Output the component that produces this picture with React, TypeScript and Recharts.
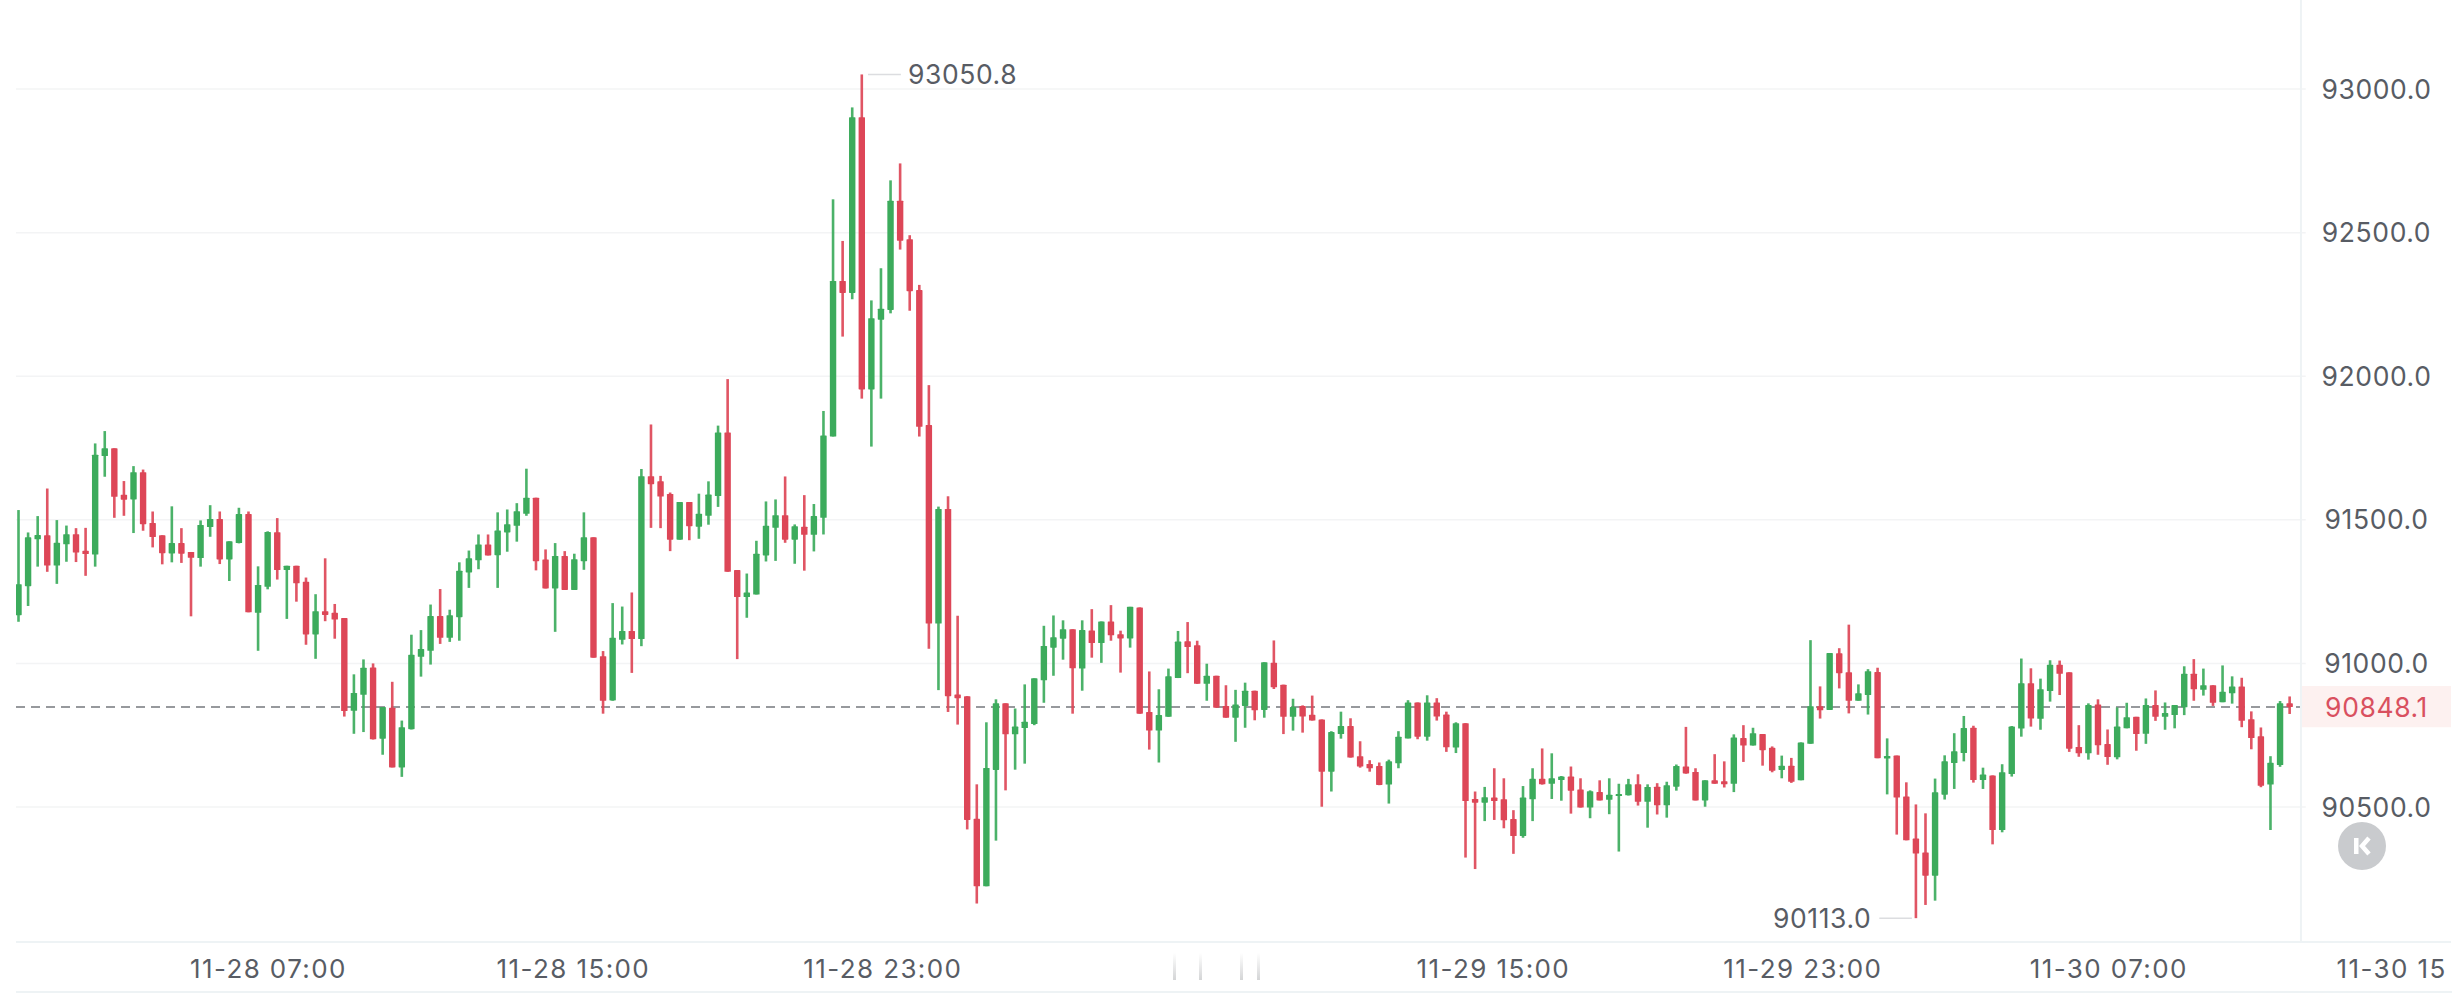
import React from 'react';
import { ComposedChart, Bar, XAxis, YAxis, ReferenceLine, ReferenceArea, ReferenceDot } from 'recharts';

const opens = [
  91168,91269,91432,91446,91341,91415,91450,91392,91379,91722,
  91749,91587,91571,91666,91489,91446,91383,91419,91388,91367,
  91475,91503,91362,91419,91520,91176,91267,91457,91325,91340,
  91284,91101,91182,91176,91158,90835,90891,90986,90738,90846,
  90638,90771,91023,91044,91165,91089,91161,91317,91359,91414,
  91377,91456,91479,91521,91577,91362,91261,91374,91256,91356,
  91439,91025,90871,91082,91113,91085,91652,91634,91590,91431,
  91562,91476,91514,91583,91804,91325,91231,91240,91376,91472,
  91516,91431,91476,91448,91507,91790,92332,92290,92902,91954,
  92197,92231,92611,92477,92300,91830,91139,91538,90892,90886,
  90459,90224,90629,90861,90753,90775,90789,90941,91055,91086,
  91119,90982,91115,91071,91146,91102,91087,91195,90831,90766,
  90814,90949,91077,91063,90929,90957,90852,90811,90852,90905,
  90838,91002,90926,90814,90852,90821,90805,90623,90754,90782,
  90677,90650,90643,90578,90652,90739,90864,90745,90864,90822,
  90707,90792,90528,90515,90533,90527,90458,90399,90527,90598,
  90581,90594,90606,90561,90498,90552,90525,90539,90541,90579,
  90518,90571,90506,90571,90641,90622,90523,90593,90590,90581,
  90740,90714,90754,90706,90629,90644,90593,90720,90851,90838,
  91035,90969,90870,90890,90970,90669,90679,90537,90390,90342,
  90261,90543,90653,90688,90776,90594,90610,90420,90615,90773,
  90931,90807,90904,90995,90969,90709,90687,90857,90719,90673,
  90774,90814,90755,90855,90814,90820,90847,90964,90908,90924,
  90865,90896,90920,90806,90746,90578,90646,90861,
];

const closes = [
  91276,91439,91447,91341,91420,91450,91386,91381,91727,91749,
  91580,91570,91666,91485,91440,91384,91419,91382,91368,91482,
  91503,91362,91425,91520,91178,91273,91458,91325,91340,91279,
  91101,91182,91169,91153,90834,90897,90985,90736,90848,90638,
  90778,91030,91050,91165,91089,91168,91323,91366,91414,91376,
  91463,91485,91530,91577,91356,91261,91374,91256,91363,91439,
  91020,90870,91089,91113,91085,91652,91624,91581,91431,91562,
  91478,91521,91588,91804,91319,91231,91247,91382,91479,91516,
  91431,91478,91448,91513,91794,92332,92290,92902,91954,92202,
  92235,92611,92472,92296,91824,91139,91538,90886,90879,90455,
  90224,90636,90861,90753,90780,90797,90948,91061,91091,91119,
  90983,91116,91071,91146,91098,91087,91197,90825,90766,90820,
  90955,91076,91057,90929,90957,90846,90811,90857,90905,90837,
  91004,90917,90814,90848,90815,90801,90623,90761,90782,90672,
  90641,90635,90577,90659,90745,90864,90745,90864,90815,90708,
  90792,90521,90515,90534,90521,90454,90399,90533,90598,90579,
  90600,90606,90557,90498,90555,90523,90543,90545,90579,90518,
  90570,90506,90576,90643,90617,90523,90593,90581,90579,90742,
  90714,90757,90698,90626,90644,90588,90725,90851,90837,91036,
  90966,90870,90896,90973,90670,90678,90533,90384,90338,90261,
  90551,90659,90694,90775,90594,90613,90420,90621,90780,90931,
  90808,90910,90995,90964,90703,90687,90855,90715,90674,90780,
  90813,90754,90855,90814,90827,90855,90964,90910,90924,90863,
  90901,90920,90800,90740,90574,90654,90861,90848.1,
];

const highs = [
  91534,91456,91513,91609,91499,91480,91471,91472,91766,91809,
  91749,91635,91687,91675,91529,91446,91547,91471,91388,91498,
  91551,91529,91425,91542,91529,91338,91460,91506,91340,91340,
  91299,91241,91366,91207,91158,90962,91014,91000,90848,90936,
  90801,91100,91116,91205,91259,91187,91352,91393,91449,91449,
  91526,91536,91558,91678,91577,91397,91419,91391,91382,91526,
  91439,91043,91210,91198,91247,91677,91832,91653,91595,91562,
  91562,91591,91634,91828,91990,91325,91313,91427,91564,91571,
  91651,91484,91586,91555,91879,92616,92471,92936,93050.8,92264,
  92376,92682,92741,92491,92318,91969,91546,91582,91166,90886,
  90579,90795,90875,90861,90843,90927,90948,91131,91167,91150,
  91119,91150,91189,91146,91203,91114,91197,91195,90972,90910,
  90982,91113,91144,91079,90999,90957,90924,90908,90933,90905,
  91004,91080,90926,90877,90854,90888,90805,90764,90832,90809,
  90729,90663,90655,90665,90764,90872,90864,90889,90879,90832,
  90795,90792,90554,90570,90635,90600,90489,90573,90635,90704,
  90687,90608,90641,90600,90558,90593,90600,90581,90598,90614,
  90579,90583,90588,90648,90779,90635,90593,90684,90659,90753,
  90785,90776,90754,90711,90679,90671,90725,91081,90920,91036,
  91053,91135,90927,90980,90985,90739,90679,90586,90509,90478,
  90599,90680,90757,90817,90783,90637,90610,90649,90782,91017,
  90983,90947,91011,91010,90969,90785,90861,90875,90770,90847,
  90863,90814,90878,90906,90864,90855,90990,91015,90982,90924,
  90993,90955,90950,90833,90777,90677,90869,90885,
];

const lows = [
  91145,91200,91337,91319,91277,91354,91353,91305,91337,91650,
  91507,91514,91454,91462,91404,91345,91352,91350,91164,91337,
  91441,91346,91287,91418,91178,91044,91258,91292,91155,91215,
  91065,91016,91147,91086,90815,90755,90761,90735,90682,90638,
  90605,90770,90954,90996,91068,91075,91079,91263,91328,91376,
  91263,91389,91424,91514,91324,91261,91110,91256,91256,91326,
  91020,90825,90870,91066,90967,91060,91472,91471,91391,91431,
  91429,91434,91483,91545,91319,91015,91159,91240,91355,91357,
  91420,91347,91323,91390,91449,91790,92138,92268,91922,91755,
  91922,92219,92441,92228,91790,91051,90907,90831,90787,90422,
  90164,90224,90383,90558,90630,90651,90785,90863,90957,91013,
  90825,90905,91020,91002,91079,90968,91055,90825,90700,90655,
  90814,90949,90966,90929,90870,90846,90811,90727,90776,90802,
  90811,90911,90754,90766,90759,90801,90501,90554,90738,90672,
  90637,90623,90576,90512,90635,90739,90736,90731,90801,90692,
  90688,90324,90284,90451,90455,90426,90337,90393,90451,90578,
  90528,90522,90477,90498,90461,90523,90475,90345,90540,90505,
  90428,90474,90463,90557,90616,90523,90501,90581,90568,90552,
  90657,90714,90644,90621,90600,90584,90593,90720,90808,90838,
  90913,90826,90870,90822,90670,90544,90404,90384,90113,90159,
  90174,90526,90563,90659,90585,90563,90370,90412,90606,90745,
  90780,90769,90867,90890,90692,90675,90665,90682,90647,90666,
  90774,90696,90720,90800,90769,90774,90820,90870,90888,90852,
  90865,90860,90778,90701,90569,90420,90640,90824,
];

// candle index -> time label, one every 32 candles (15 minute candles)
// the last label is cut short by the screen edge in the source picture
const timeTicks = [26, 58, 90, 154, 186, 218, 250];
const timeLabels = ['11-28 07:00', '11-28 15:00', '11-28 23:00', '11-29 15:00', '11-29 23:00', '11-30 07:00', '11-30 15'];
const priceTicks = [90500, 91000, 91500, 92000, 92500, 93000];
const lastPrice = 90848.1;
const highPrice = 93050.8;
const lowPrice = 90113.0;

const UP = '#3cab5c';
const DOWN = '#dd4657';
const TEXT = '#585c64';
const PALE = '#f3f4f5';
const AXIS = '#eef3f5';
const FONT = 'Inter, "Noto Sans", sans-serif';

const candles = opens.map((open, i) => ({
  i,
  open,
  close: closes[i],
  range: [lows[i], highs[i]],
}));

function Candle(props: any) {
  const { x, y, width, height, payload } = props;
  const [low, high] = payload.range;
  const toY = (v: number) => y + ((high - v) / (high - low)) * height;
  const color = payload.close >= payload.open ? UP : DOWN;
  const cx = x + width / 2;
  const top = toY(Math.max(payload.open, payload.close));
  const bottom = toY(Math.min(payload.open, payload.close));
  return (
    <g>
      <rect x={cx - 1.3} y={y} width={2.6} height={height} fill={color} opacity={0.92} />
      <rect x={cx - 3.2} y={top} width={6.4} height={Math.max(bottom - top, 2)} rx={0.6} fill={color} />
    </g>
  );
}

function TimeTick(props: any) {
  const { x, y, payload } = props;
  return (
    <text x={x - 77.5} y={y} dy="0.71em" textAnchor="start" fontFamily={FONT} fontSize={26} letterSpacing={1.4} fill={TEXT}>
      {timeLabels[timeTicks.indexOf(payload.value)]}
    </text>
  );
}

function PriceTick(props: any) {
  const { y, payload } = props;
  const isLast = payload.value === lastPrice;
  return (
    <text
      x={2376.5}
      y={y}
      dy="0.36em"
      textAnchor="middle"
      fontFamily={FONT}
      fontSize={26.5}
      letterSpacing={0.6}
      fill={isLast ? '#d9505f' : TEXT}
    >
      {payload.value.toFixed(1)}
    </text>
  );
}

function Extreme({ viewBox, value, side }: any) {
  const px = side === 'right' ? viewBox.x + 7 : viewBox.x - 8;
  return (
    <text
      x={px}
      y={viewBox.y}
      dy="0.36em"
      textAnchor={side === 'right' ? 'start' : 'end'}
      fontFamily={FONT}
      fontSize={26.5}
      letterSpacing={0.6}
      fill={TEXT}
    >
      {value}
    </text>
  );
}

export default function App() {
  return (
    <div style={{ position: 'absolute', left: 0, top: 0, width: 2452, height: 993, background: '#fff', overflow: 'hidden' }}>
      <ComposedChart
        width={2452}
        height={993}
        data={candles}
        margin={{ top: 0, right: 0, bottom: 0, left: 16 }}
      >
        <XAxis
          dataKey="i"
          type="number"
          domain={[-0.24, 253.86]}
          allowDataOverflow
          ticks={timeTicks}
          interval={0}
          height={51}
          axisLine={{ stroke: AXIS, strokeWidth: 2 }}
          tickLine={false}
          tickMargin={12}
          tick={TimeTick}
        />
        <YAxis
          orientation="right"
          type="number"
          domain={[90030, 93310]}
          allowDataOverflow
          ticks={[...priceTicks, lastPrice]}
          interval={0}
          width={1}
          axisLine={false}
          tickLine={false}
          tick={PriceTick}
        />
        <ReferenceArea x1={238.3} x2={253.86} y1={90778} y2={90921} fill="#fdf1f0" fillOpacity={1} stroke="none" zIndex={-60} />
        {priceTicks.map((p) => (
          <ReferenceLine key={p} segment={[{ x: -0.24, y: p }, { x: 238.7, y: p }]} stroke={PALE} strokeWidth={1.5} zIndex={-60} />
        ))}
        <ReferenceLine x={238.2} stroke={AXIS} strokeWidth={2} zIndex={-60} />
        <ReferenceLine
          segment={[{ x: -0.24, y: lastPrice }, { x: 238.1, y: lastPrice }]}
          stroke="#97999d"
          strokeWidth={2}
          strokeDasharray="9 6"
          zIndex={-50}
        />
        <ReferenceLine segment={[{ x: 88.67, y: highPrice }, { x: 92.1, y: highPrice }]} stroke="#dcdde0" strokeWidth={1.5} />
        <ReferenceLine segment={[{ x: 194.2, y: lowPrice }, { x: 197.6, y: lowPrice }]} stroke="#dcdde0" strokeWidth={1.5} />
        <ReferenceDot
          x={92.1}
          y={highPrice}
          r={0}
          stroke="none"
          label={(p: any) => <Extreme {...p} value={highPrice.toFixed(1)} side="right" />}
        />
        <ReferenceDot
          x={194.2}
          y={lowPrice}
          r={0}
          stroke="none"
          label={(p: any) => <Extreme {...p} value={lowPrice.toFixed(1)} side="left" />}
        />
        <Bar dataKey="range" barSize={8} shape={Candle} isAnimationActive={false} />
      </ComposedChart>

      {/* bottom rule under the time axis */}
      <div style={{ position: 'absolute', left: 16, right: 0, top: 991, height: 2, background: AXIS }} />

      {/* faint watermark traces over the hidden 11-29 07:00 label */}
      {[1173, 1199, 1240, 1257].map((x) => (
        <div
          key={x}
          style={{
            position: 'absolute',
            left: x,
            top: 953,
            width: 3,
            height: 27,
            background: 'linear-gradient(#ffffff, #d4d5d6)',
          }}
        />
      ))}

      {/* round K button */}
      <div
        style={{
          position: 'absolute',
          left: 2338,
          top: 822,
          width: 48,
          height: 48,
          borderRadius: 24,
          background: '#c9cbce',
        }}
      >
        <svg width={48} height={48}>
          <rect x={16} y={16} width={4.5} height={16} fill="#fff" />
          <path d="M31 16 L24 24 L31 32" fill="none" stroke="#fff" strokeWidth={4.5} />
        </svg>
      </div>
    </div>
  );
}
